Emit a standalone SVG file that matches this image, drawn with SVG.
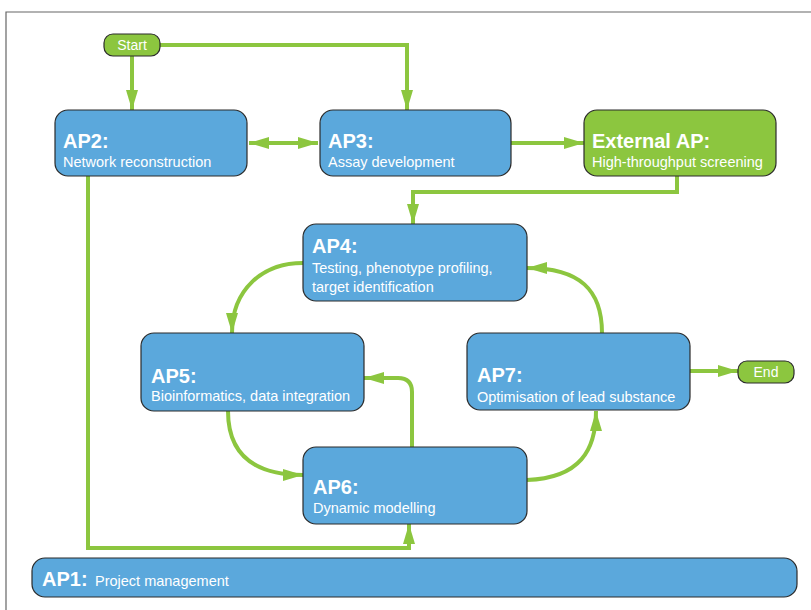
<svg xmlns="http://www.w3.org/2000/svg" width="811" height="610" viewBox="0 0 811 610">
<style>
.frame{stroke:#666;stroke-width:1.2;fill:none}
.box{fill:#5ba8dc;stroke:#2b2b2b;stroke-width:1.2}
.gbox{fill:#8cc63f;stroke:#2b2b2b;stroke-width:1.2}
.conn{fill:none;stroke:#8cc63f;stroke-width:4}
.t{font-family:"Liberation Sans",Arial,sans-serif;fill:#fff}
.h{font-size:20px;font-weight:bold}
.s{font-size:14.5px}
.term{font-size:14px}
</style>
<defs>
<marker id="arr" viewBox="0 0 20 12" refX="20" refY="6" markerWidth="20" markerHeight="12" markerUnits="userSpaceOnUse" orient="auto-start-reverse">
<path d="M0,0 L20,6 L0,12 z" fill="#8cc63f"/>
</marker>
</defs>
<rect width="811" height="610" fill="#fff"/>
<path class="frame" d="M6,610 L6,12 L811,12"/>
<g id="connectors">
<path class="conn" d="M132,56 L132,110" marker-end="url(#arr)"/>
<path class="conn" d="M160,45 L407,45 L407,110" marker-end="url(#arr)"/>
<path class="conn" d="M249,143 L318,143" marker-start="url(#arr)" marker-end="url(#arr)"/>
<path class="conn" d="M511,143 L584,143" marker-end="url(#arr)"/>
<path class="conn" d="M677,176 L677,192 L413,192 L413,224" marker-end="url(#arr)"/>
<path class="conn" d="M303,263 C262,263 232,290 232,333" marker-end="url(#arr)"/>
<path class="conn" d="M228,411 C228,455 255,475 303,475" marker-end="url(#arr)"/>
<path class="conn" d="M412,447 L412,392 Q412,378 398,378 L364,378" marker-end="url(#arr)"/>
<path class="conn" d="M527,480 C580,478 596,450 596,411" marker-end="url(#arr)"/>
<path class="conn" d="M602,333 C602,290 580,268 527,268" marker-end="url(#arr)"/>
<path class="conn" d="M690,371 L738,371" marker-end="url(#arr)"/>
<path class="conn" d="M88,176 L88,548 L409,548 L409,524" marker-end="url(#arr)"/>
</g>
<g id="start">
<rect class="gbox" x="104" y="34" width="56" height="22" rx="9"/>
<text class="t term" x="132" y="50" text-anchor="middle">Start</text>
</g>
<g id="ap2">
<rect class="box" x="55" y="110" width="192" height="66" rx="13"/>
<text class="t h" x="63" y="148">AP2:</text>
<text class="t s" x="63" y="167">Network reconstruction</text>
</g>
<g id="ap3">
<rect class="box" x="320" y="110" width="191" height="66" rx="13"/>
<text class="t h" x="328" y="148">AP3:</text>
<text class="t s" x="328" y="167">Assay development</text>
</g>
<g id="external">
<rect class="gbox" x="584" y="110" width="192" height="66" rx="13"/>
<text class="t h" x="592" y="148">External AP:</text>
<text class="t s" x="592" y="167">High-throughput screening</text>
</g>
<g id="ap4">
<rect class="box" x="303" y="224" width="224" height="77" rx="13"/>
<text class="t h" x="312" y="253">AP4:</text>
<text class="t s" x="312" y="273">Testing, phenotype profiling,</text>
<text class="t s" x="312" y="292">target identification</text>
</g>
<g id="ap5">
<rect class="box" x="141" y="333" width="223" height="78" rx="13"/>
<text class="t h" x="151" y="383">AP5:</text>
<text class="t s" x="151" y="401">Bioinformatics, data integration</text>
</g>
<g id="ap7">
<rect class="box" x="467" y="333" width="223" height="77" rx="13"/>
<text class="t h" x="477" y="382">AP7:</text>
<text class="t s" x="477" y="402">Optimisation of lead substance</text>
</g>
<g id="end">
<rect class="gbox" x="738" y="361" width="56" height="22" rx="9"/>
<text class="t term" x="766" y="377" text-anchor="middle">End</text>
</g>
<g id="ap6">
<rect class="box" x="303" y="447" width="224" height="77" rx="13"/>
<text class="t h" x="313" y="494">AP6:</text>
<text class="t s" x="313" y="513">Dynamic modelling</text>
</g>
<g id="ap1">
<rect class="box" x="32" y="558" width="765" height="39" rx="13"/>
<text class="t h" x="42" y="586">AP1:</text>
<text class="t s" x="95" y="586">Project management</text>
</g>
</svg>
